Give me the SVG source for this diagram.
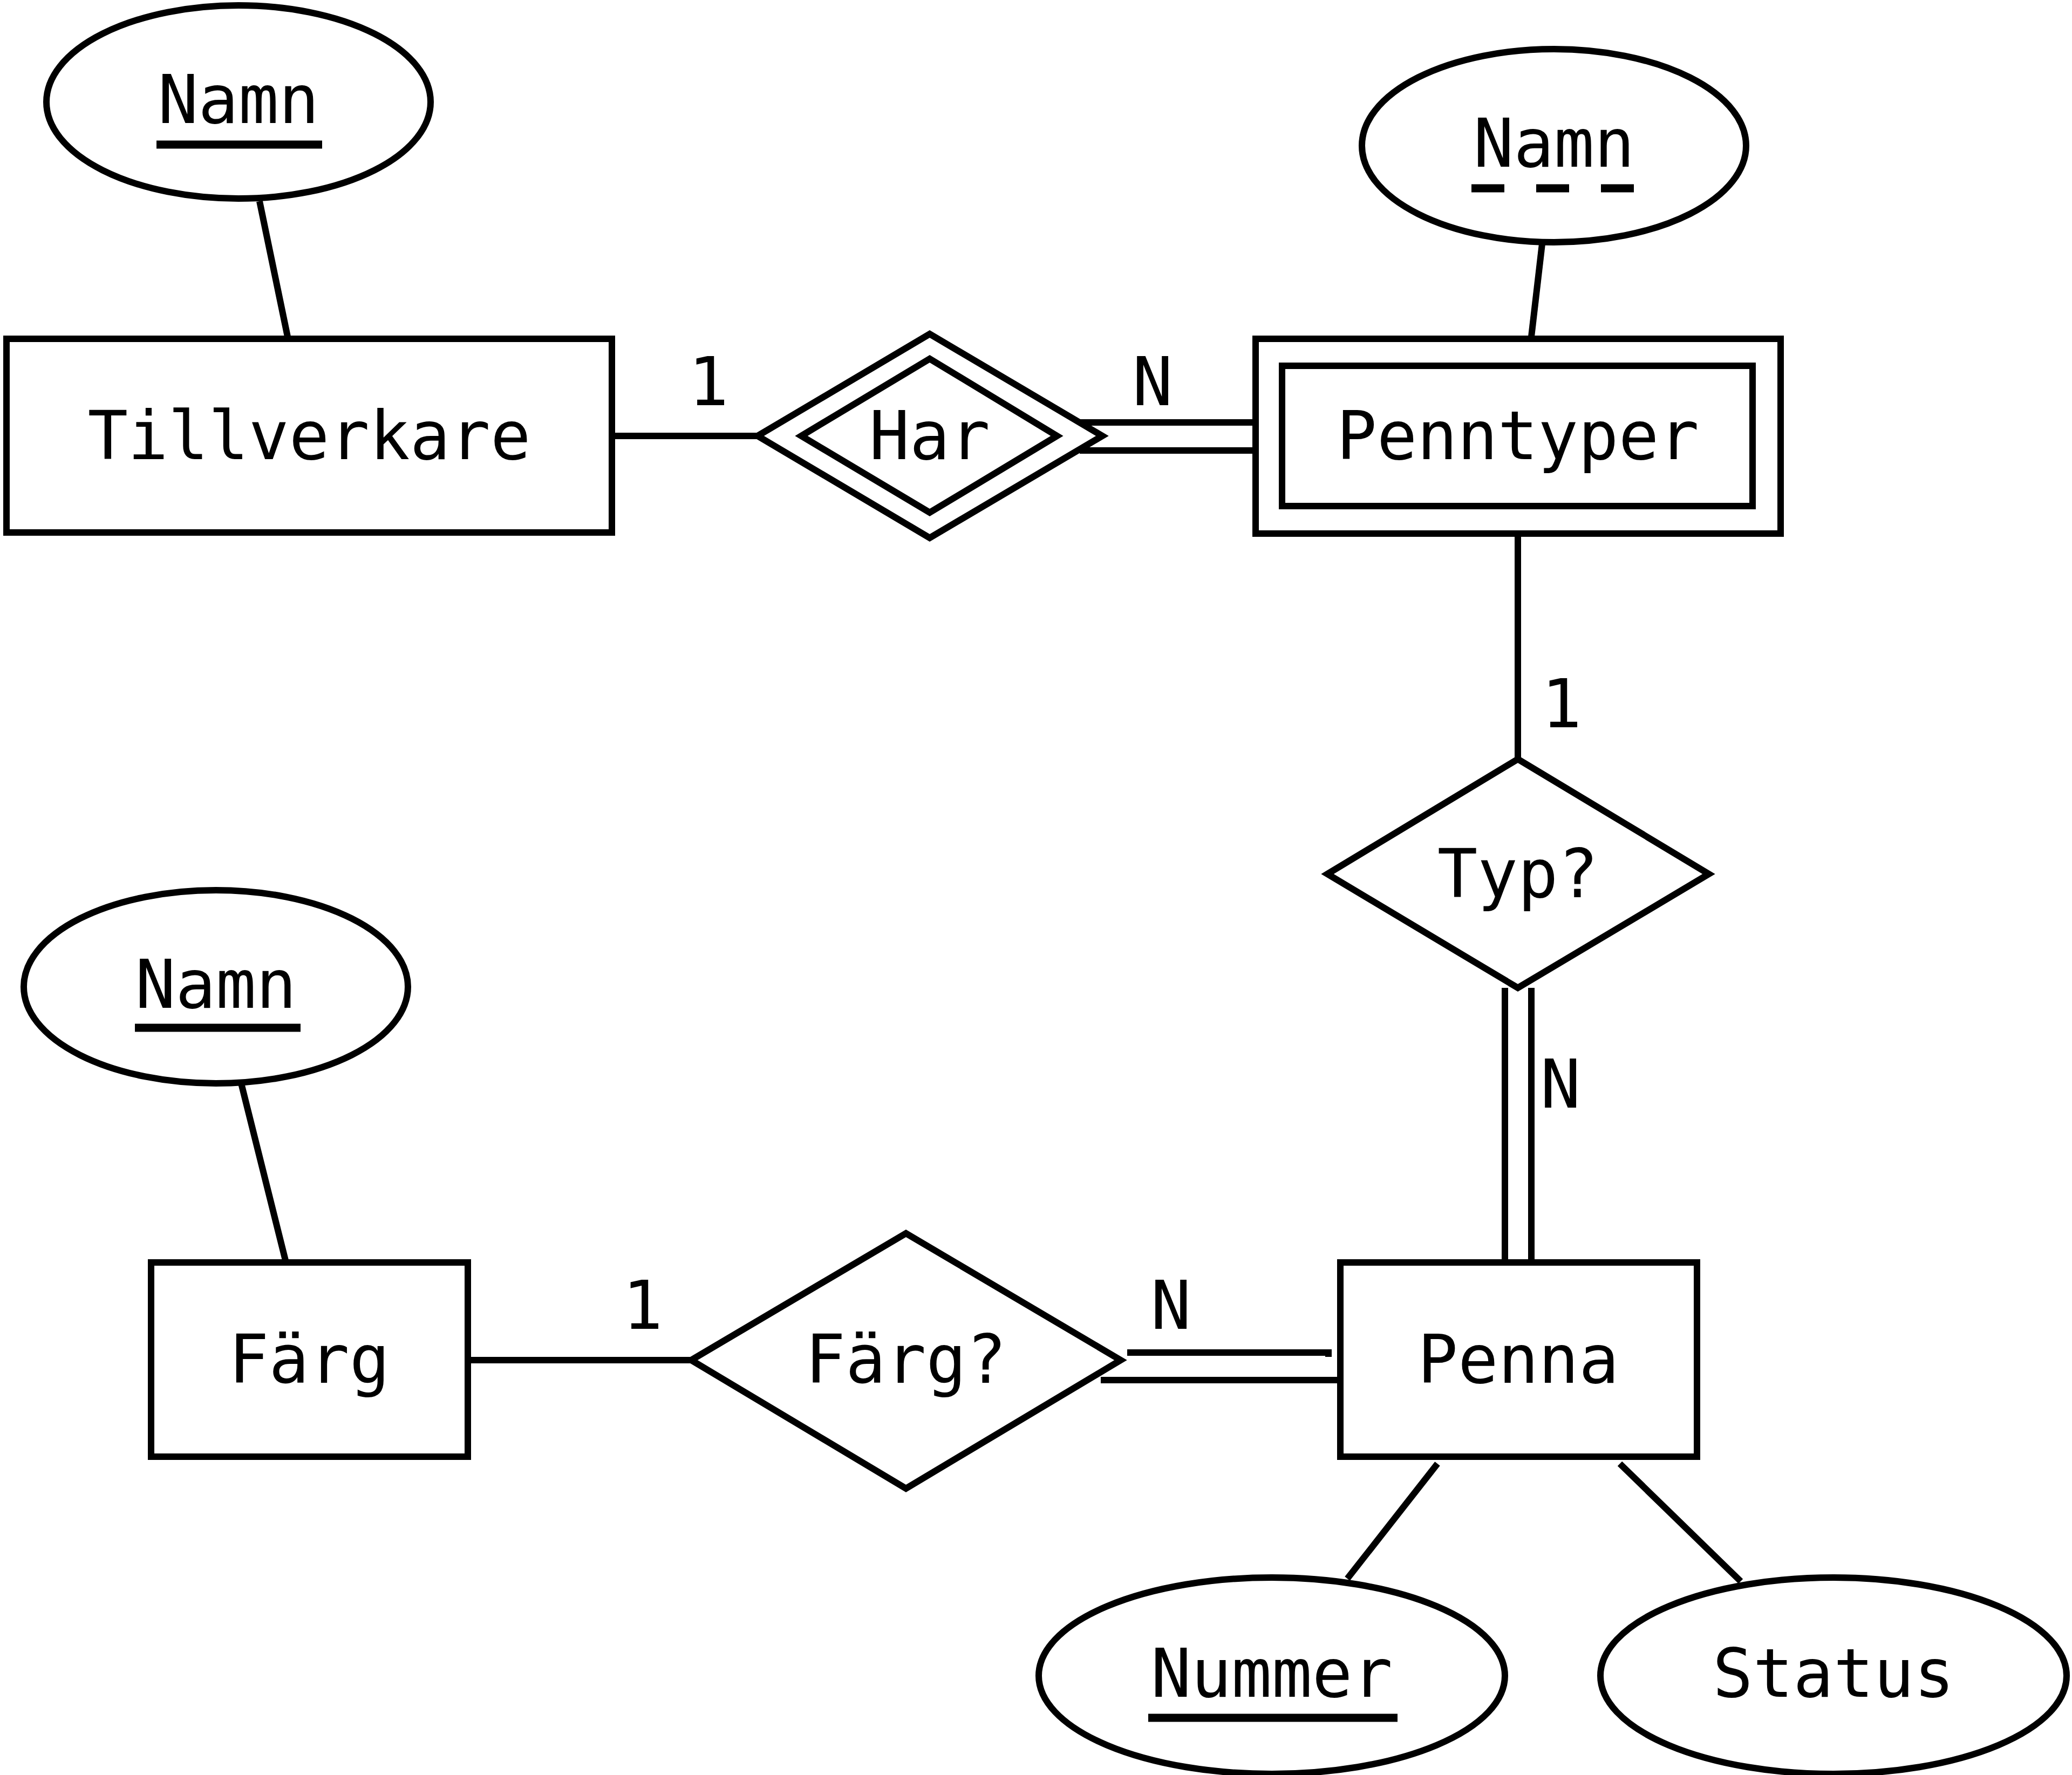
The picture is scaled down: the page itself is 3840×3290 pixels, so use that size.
<svg xmlns="http://www.w3.org/2000/svg" width="3840" height="3290" viewBox="0 0 3840 3290">
<style>
.s{fill:none;stroke:#000;stroke-width:12}
.b{fill:#fff;stroke:#000;stroke-width:12}
text{font-family:"DejaVu Sans Mono","Liberation Mono",monospace;font-size:124px;fill:#000;text-anchor:middle;dominant-baseline:central}
.u{stroke:#000;stroke-width:15}
</style>
<rect width="3840" height="3290" fill="#fff"/>
<g id="connectors" class="s">
<line x1="481" y1="373" x2="533" y2="624"/>
<line x1="1134" y1="808" x2="1404" y2="808"/>
<line x1="2001" y1="783" x2="2327" y2="783"/>
<line x1="2001" y1="835" x2="2327" y2="835"/>
<line x1="2858" y1="452" x2="2838" y2="624"/>
<line x1="2813" y1="989" x2="2813" y2="1407"/>
<line x1="2789" y1="1831" x2="2789" y2="2340"/>
<line x1="2838" y1="1831" x2="2838" y2="2340"/>
<line x1="447" y1="2008" x2="530" y2="2340"/>
<line x1="867" y1="2521" x2="1281" y2="2521"/>
<polyline points="2089,2507 2462,2507 2462,2515"/>
<polyline points="2040,2558 2509,2558 2509,2521"/>
<line x1="2664" y1="2713" x2="2497" y2="2926"/>
<line x1="3002" y1="2713" x2="3226" y2="2931"/>
</g>
<g id="labels">
<text x="1313" y="708">1</text>
<text x="2136" y="708">N</text>
<text x="2894" y="1305">1</text>
<text x="2892" y="2010">N</text>
<text x="1191" y="2420">1</text>
<text x="2170" y="2420">N</text>
</g>
<g id="namn1"><ellipse class="b" cx="442" cy="189" rx="356" ry="179"/><text x="442" y="185">Namn</text><line class="u" x1="290" y1="268" x2="597" y2="268"/></g>
<g id="tillverkare"><rect class="b" x="12" y="628" width="1122" height="359"/><text x="573" y="808">Tillverkare</text></g>
<g id="har"><polygon class="b" points="1404,808 1723,619 2043,808 1723,997"/><polygon class="s" points="1485,808 1723,665 1959,808 1723,950"/><text x="1723" y="808">Har</text></g>
<g id="penntyper"><rect class="b" x="2327" y="628" width="973" height="361"/><rect class="s" x="2376" y="678" width="872" height="260"/><text x="2813" y="808">Penntyper</text></g>
<g id="namn2"><ellipse class="b" cx="2880" cy="270" rx="356" ry="179"/><text x="2880" y="266">Namn</text><line class="u" x1="2727" y1="349" x2="3029" y2="349" stroke-dasharray="61 59"/></g>
<g id="typ"><polygon class="b" points="2460,1620 2813,1407 3167,1620 2813,1831"/><text x="2813" y="1620">Typ?</text></g>
<g id="penna"><rect class="b" x="2484" y="2340" width="661" height="360"/><text x="2814" y="2520">Penna</text></g>
<g id="farg"><rect class="b" x="280" y="2340" width="587" height="360"/><text x="573" y="2520">Färg</text></g>
<g id="namn3"><ellipse class="b" cx="400" cy="1829" rx="356" ry="179"/><text x="400" y="1825">Namn</text><line class="u" x1="250" y1="1905" x2="557" y2="1905"/></g>
<g id="fargrel"><polygon class="b" points="1281,2521 1679,2286 2077,2521 1679,2759"/><text x="1679" y="2520">Färg?</text></g>
<g id="nummer"><ellipse class="b" cx="2357" cy="3106" rx="432" ry="182"/><text x="2357" y="3102">Nummer</text><line class="u" x1="2128" y1="3184" x2="2590" y2="3184"/></g>
<g id="status"><ellipse class="b" cx="3398" cy="3106" rx="432" ry="182"/><text x="3398" y="3102">Status</text></g>
</svg>
